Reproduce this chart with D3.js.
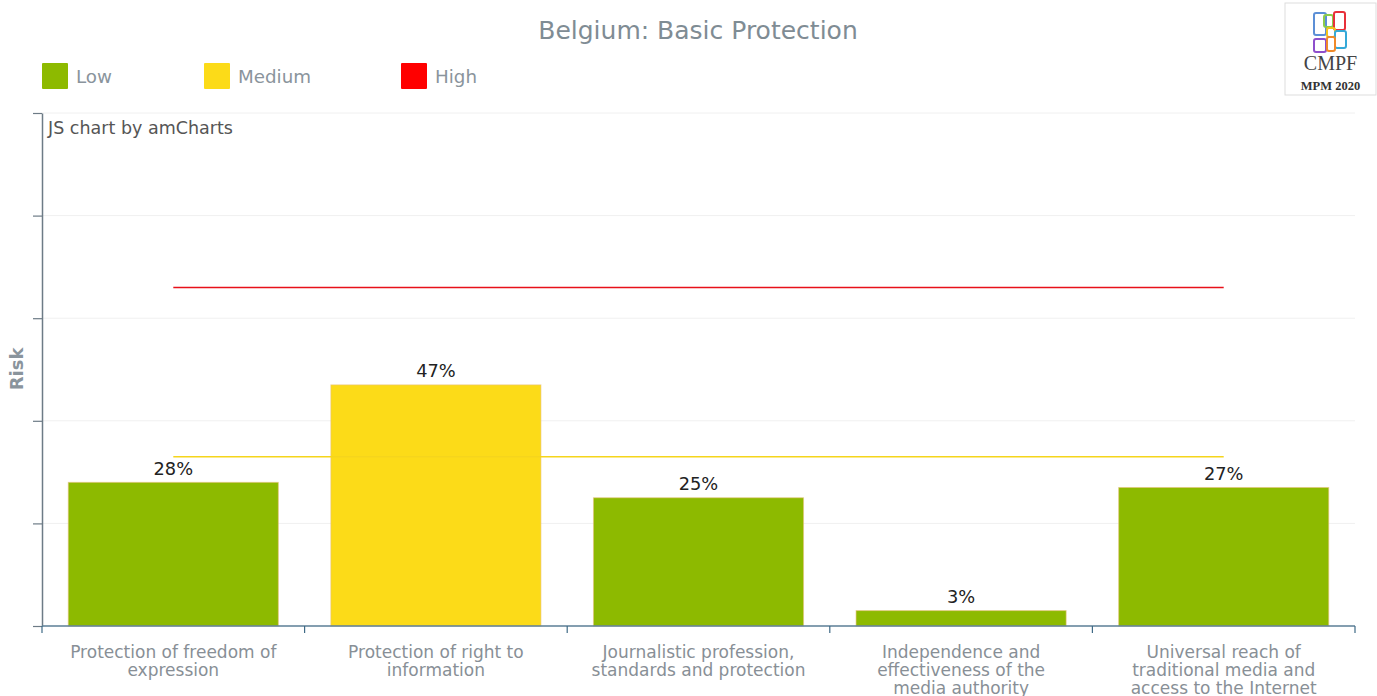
<!DOCTYPE html>
<html>
<head>
<meta charset="utf-8">
<script src="https://cdn.jsdelivr.net/npm/d3@7"></script>
<style>
  html, body { margin: 0; padding: 0; background: #fff; }
  svg { display: block; font-family: "DejaVu Sans", Verdana, sans-serif; }
</style>
</head>
<body>
<svg id="chart" width="1377" height="696"></svg>
<script>
// Indicator names (one per bar) and their risk scores, in percent
const categories = [
  "Protection of freedom of expression",
  "Protection of right to information",
  "Journalistic profession, standards and protection",
  "Independence and effectiveness of the media authority",
  "Universal reach of traditional media and access to the Internet"
];
const categoryLines = [
  ["Protection of freedom of", "expression"],
  ["Protection of right to", "information"],
  ["Journalistic profession,", "standards and protection"],
  ["Independence and", "effectiveness of the", "media authority"],
  ["Universal reach of", "traditional media and", "access to the Internet"]
];
const riskValues = [28, 47, 25, 3, 27];
const riskLevels = ["Low", "Medium", "Low", "Low", "Low"];

// Threshold series drawn across the categories
const mediumThreshold = [33, 33, 33, 33, 33];
const highThreshold = [66, 66, 66, 66, 66];

// Legend entries and axis ticks
const legendLabels = ["Low", "Medium", "High"];
const yTicks = [0, 20, 40, 60, 80, 100];

const levelColor = { Low: "#8dba00", Medium: "#fcdb18", High: "#ff0000" };

const svg = d3.select("#chart");
const margin = { left: 42, right: 22, top: 113, bottom: 70 };
const W = 1377, H = 696;
const plotW = W - margin.left - margin.right;
const plotH = H - margin.top - margin.bottom;

const x = d3.scaleBand().domain(categories).range([margin.left, margin.left + plotW])
  .paddingInner(0.2).paddingOuter(0.1);
const xOuter = d3.scaleBand().domain(categories).range([margin.left, margin.left + plotW]);
const y = d3.scaleLinear().domain([0, 100]).range([margin.top + plotH, margin.top]);

// Title
svg.append("text")
  .attr("x", 698).attr("y", 39)
  .attr("text-anchor", "middle")
  .attr("font-size", 25)
  .attr("fill", "#7f8c94")
  .text("Belgium: Basic Protection");

// Legend
const legend = svg.append("g");
const legendX = [42, 204, 401];
legendLabels.forEach((lab, i) => {
  const g = legend.append("g").attr("transform", `translate(${legendX[i]},63)`);
  g.append("rect").attr("width", 26).attr("height", 26).attr("rx", 1)
    .attr("fill", levelColor[lab]);
  g.append("text").attr("x", 34).attr("y", 13).attr("dy", "0.36em")
    .attr("font-size", 18.3).attr("fill", "#8a949c").text(lab);
});

// Horizontal grid
svg.append("g").selectAll("line").data(yTicks).join("line")
  .attr("x1", margin.left).attr("x2", margin.left + plotW)
  .attr("y1", d => y(d)).attr("y2", d => y(d))
  .attr("stroke", "#f0f0f0").attr("stroke-width", 1);

// Credit text
svg.append("text").attr("x", 48).attr("y", 128).attr("dy", "0.35em")
  .attr("font-size", 17.5).attr("fill", "#555").text("JS chart by amCharts");

// Bars
svg.append("g").selectAll("rect").data(categories).join("rect")
  .attr("x", d => x(d))
  .attr("width", x.bandwidth())
  .attr("y", (d, i) => y(riskValues[i]))
  .attr("height", (d, i) => y(0) - y(riskValues[i]))
  .attr("fill", (d, i) => levelColor[riskLevels[i]])
  .attr("stroke", "#e8c27a").attr("stroke-width", 1).attr("stroke-opacity", 0.6);

// Value labels
svg.append("g").selectAll("text").data(categories).join("text")
  .attr("x", d => x(d) + x.bandwidth() / 2)
  .attr("y", (d, i) => y(riskValues[i]) - 14)
  .attr("dy", "0.35em")
  .attr("text-anchor", "middle")
  .attr("font-size", 17.8).attr("fill", "#222")
  .text((d, i) => riskValues[i] + "%");

// Threshold lines
const center = d => xOuter(d) + xOuter.bandwidth() / 2;
const thrLine = vals => d3.line().x((d, i) => center(categories[i])).y(d => y(d))(vals);
svg.append("path").attr("d", thrLine(mediumThreshold))
  .attr("fill", "none").attr("stroke", "#f5d51c").attr("stroke-width", 1.5);
svg.append("path").attr("d", thrLine(highThreshold))
  .attr("fill", "none").attr("stroke", "#e8101a").attr("stroke-width", 1.5);

// Y axis (ticks without labels)
const yAxis = svg.append("g").attr("transform", `translate(${margin.left},0)`)
  .call(d3.axisLeft(y).tickValues(yTicks).tickFormat("").tickSize(9).tickSizeOuter(0));
yAxis.select(".domain").attr("stroke", "#6d7b86").attr("stroke-width", 1.5);
yAxis.selectAll(".tick line").attr("stroke", "#6d7b86").attr("stroke-width", 1.2);

// X axis with ticks at band boundaries
const xAxisG = svg.append("g").attr("transform", `translate(0,${y(0)})`);
xAxisG.append("line").attr("x1", margin.left).attr("x2", margin.left + plotW)
  .attr("stroke", "#5e8199").attr("stroke-width", 1.5);
const bounds = categories.map(d => xOuter(d)).concat([margin.left + plotW]);
xAxisG.selectAll("line.tk").data(bounds).join("line").attr("class", "tk")
  .attr("x1", d => d).attr("x2", d => d).attr("y1", 0).attr("y2", 7)
  .attr("stroke", "#3f6a86").attr("stroke-width", 1.2);

// Category labels
const lab = svg.append("g").selectAll("text").data(categories).join("text")
  .attr("x", d => center(d))
  .attr("text-anchor", "middle")
  .attr("font-size", 17).attr("fill", "#888f96");
lab.each(function (d, i) {
  d3.select(this).selectAll("tspan").data(categoryLines[i]).join("tspan")
    .attr("x", center(d))
    .attr("y", (t, j) => 658 + j * 18)
    .text(t => t);
});

// Y axis title
svg.append("text")
  .attr("transform", "translate(23,369) rotate(-90)")
  .attr("text-anchor", "middle")
  .attr("font-size", 18).attr("font-weight", "bold").attr("fill", "#8a949c")
  .text("Risk");

// CMPF / MPM badge
const badge = svg.append("g").attr("transform", "translate(1285,3)");
badge.append("rect").attr("width", 91).attr("height", 92)
  .attr("fill", "#fff").attr("stroke", "#ddd");
const tiles = [
  { x: 29, y: 10, w: 12, h: 22, c: "#5c8fd6" },
  { x: 39, y: 12, w: 9, h: 12, c: "#8ccb4a" },
  { x: 49, y: 9, w: 11, h: 18, c: "#e8303a" },
  { x: 42, y: 25, w: 8, h: 9, c: "#f3c21c" },
  { x: 50, y: 28, w: 11, h: 17, c: "#35a9d8" },
  { x: 29, y: 36, w: 12, h: 13, c: "#8e4fcc" },
  { x: 42, y: 34, w: 8, h: 14, c: "#f08a2a" }
];
badge.selectAll("rect.tile").data(tiles).join("rect").attr("class", "tile")
  .attr("x", d => d.x).attr("y", d => d.y).attr("width", d => d.w).attr("height", d => d.h)
  .attr("rx", 2).attr("fill", "none").attr("stroke", d => d.c).attr("stroke-width", 2);
badge.append("text").attr("x", 45.5).attr("y", 67).attr("text-anchor", "middle")
  .attr("font-family", "Liberation Serif, serif").attr("font-size", 20).attr("fill", "#444")
  .text("CMPF");
badge.append("text").attr("x", 45.5).attr("y", 87).attr("text-anchor", "middle")
  .attr("font-family", "Liberation Serif, serif").attr("font-size", 12.5).attr("font-weight", "bold")
  .attr("fill", "#333").text("MPM 2020");
</script>
</body>
</html>
